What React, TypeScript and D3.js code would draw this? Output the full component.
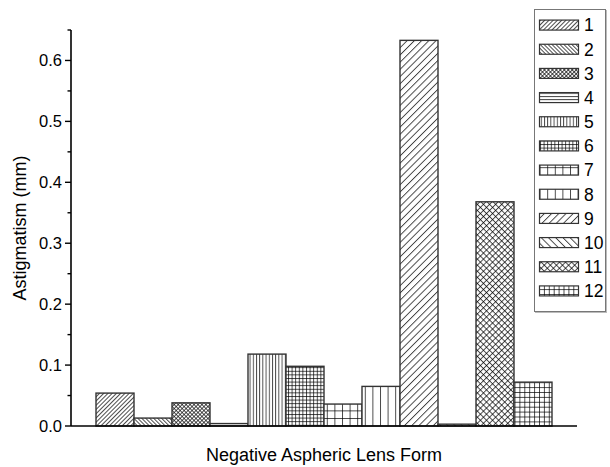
import React from "react";
import * as d3 from "d3";

const forms = ["1", "2", "3", "4", "5", "6", "7", "8", "9", "10", "11", "12"];
const astigmatism = [0.054, 0.013, 0.038, 0.004, 0.118, 0.098, 0.036, 0.065, 0.633, 0.003, 0.368, 0.072];
const yTicks = [0, 0.1, 0.2, 0.3, 0.4, 0.5, 0.6];
const yMinor = [0.05, 0.15, 0.25, 0.35, 0.45, 0.55, 0.65];

// hatch kind + spacing per series
const hatches = [
  { kind: "fwd", gap: 3.0 },
  { kind: "back", gap: 2.8 },
  { kind: "cross", gap: 2.8 },
  { kind: "horiz", gap: 3.2 },
  { kind: "vert", gap: 3.2 },
  { kind: "grid", gap: 3.6 },
  { kind: "grid", gap: 7.6 },
  { kind: "vert", gap: 7.6 },
  { kind: "fwd", gap: 5.1 },
  { kind: "back", gap: 5.1 },
  { kind: "cross", gap: 4.3 },
  { kind: "grid", gap: 4.9 },
];

const Hatch = ({ id, kind, gap }: { id: string; kind: string; gap: number }) => {
  const rot = kind === "fwd" || kind === "cross" ? 45 : kind === "back" ? -45 : 0;
  const v = kind === "fwd" || kind === "back" || kind === "cross" || kind === "vert" || kind === "grid";
  const h = kind === "cross" || kind === "horiz" || kind === "grid";
  return (
    <pattern
      id={id}
      patternUnits="userSpaceOnUse"
      width={gap}
      height={gap}
      patternTransform={rot ? `rotate(${rot})` : undefined}
    >
      <rect width={gap} height={gap} fill="#fff" />
      {v && <line x1={0.5} y1={0} x2={0.5} y2={gap} stroke="#000" strokeWidth={0.7} />}
      {h && <line x1={0} y1={0.5} x2={gap} y2={0.5} stroke="#000" strokeWidth={0.7} />}
    </pattern>
  );
};

const App = () => {
  const width = 610;
  const height = 467;
  const x0 = 71;
  const x1 = 577;

  const y = d3.scaleLinear().domain([0, 0.65]).range([426, 30]);
  const x = d3.scaleBand().domain(forms).range([96, 552]).padding(0);
  const legendY = d3.scaleBand().domain(forms).range([13, 303]);

  const font = "Arial, 'Liberation Sans', sans-serif";

  return (
    <svg width={width} height={height} style={{ position: "absolute", left: 0, top: 0 }} fontFamily={font}>
      <defs>
        {hatches.map((p, i) => (
          <Hatch key={i} id={`h${i}`} kind={p.kind} gap={p.gap} />
        ))}
      </defs>
      <rect width={width} height={height} fill="#fff" />

      {astigmatism.map((v, i) => (
        <rect
          key={i}
          x={x(forms[i])}
          y={y(v)}
          width={x.bandwidth()}
          height={y(0) - y(v)}
          fill={`url(#h${i})`}
          stroke="#333"
          strokeWidth={1.4}
        />
      ))}

      {/* axes */}
      <line x1={x0} y1={y(0)} x2={x1} y2={y(0)} stroke="#000" strokeWidth={1.6} />
      <line x1={x0} y1={y(0.65)} x2={x0} y2={y(0)} stroke="#000" strokeWidth={1.6} />
      {yTicks.map(t => (
        <g key={t}>
          <line x1={x0 - 6} x2={x0} y1={y(t)} y2={y(t)} stroke="#000" strokeWidth={1.4} />
          <text x={x0 - 9} y={y(t)} dy="0.36em" textAnchor="end" fontSize={16.5} fill="#000">
            {d3.format(".1f")(t)}
          </text>
        </g>
      ))}
      {yMinor.map(t => (
        <line key={t} x1={x0 - 3.5} x2={x0} y1={y(t)} y2={y(t)} stroke="#000" strokeWidth={1.4} />
      ))}

      <text
        transform={`translate(26 ${y(0.325)}) rotate(-90)`}
        textAnchor="middle"
        fontSize={18}
        fill="#000"
      >
        Astigmatism (mm)
      </text>
      <text x={(x0 + x1) / 2} y={461} textAnchor="middle" fontSize={18} fill="#000">
        Negative Aspheric Lens Form
      </text>

      {/* legend */}
      <rect x={534.5} y={9.5} width={71} height={302} fill="#fff" stroke="#777" strokeWidth={1} />
      <line x1={535} y1={312.5} x2={606.5} y2={312.5} stroke="#bbb" strokeWidth={1} />
      <line x1={606.5} y1={10} x2={606.5} y2={313} stroke="#bbb" strokeWidth={1} />
      {forms.map((f, i) => {
        const cy = (legendY(f) as number) + legendY.bandwidth() / 2;
        return (
          <g key={f}>
            <rect
              x={539.5}
              y={cy - 5}
              width={39}
              height={10}
              fill={`url(#h${i})`}
              stroke="#333"
              strokeWidth={1.2}
            />
            <text x={584} y={cy} dy="0.36em" fontSize={17.5} fill="#000">
              {f}
            </text>
          </g>
        );
      })}
    </svg>
  );
};

export default App;
